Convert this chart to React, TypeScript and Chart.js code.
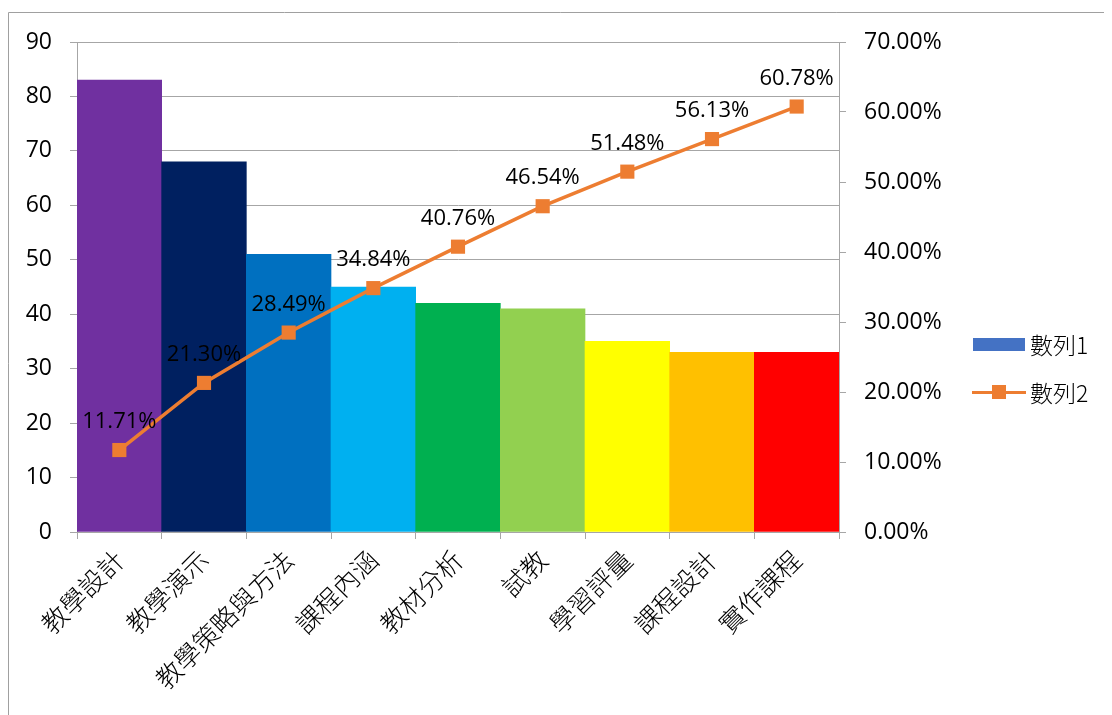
import React, { useEffect, useRef } from "react";
import { Chart, registerables } from "chart.js";
Chart.register(...registerables);

const categories = ["教學設計", "教學演示", "教學策略與方法", "課程內涵", "教材分析", "試教", "學習評量", "課程設計", "實作課程"];
const series1 = [83, 68, 51, 45, 42, 41, 35, 33, 33];
const series2 = [0.1171, 0.213, 0.2849, 0.3484, 0.4076, 0.4654, 0.5148, 0.5613, 0.6078];
const barColors = ["#7030A0", "#002060", "#0070C0", "#00B0F0", "#00B050", "#92D050", "#FFFF00", "#FFC000", "#FF0000"];
const seriesNames = ["數列1", "數列2"];
const leftTicks = { min: 0, max: 90, step: 10 };
const rightTicks = { min: 0, max: 0.7, step: 0.1 };

const NUM_FONT = "'Open Sans', sans-serif";
const CJK_FONT = "'Noto Sans CJK TC', sans-serif";
const GRID = "#A6A6A6";
const LINE = "#ED7D31";
const LEGEND_BAR = "#4472C4";

const pct = (v: number) => (v * 100).toFixed(2) + "%";

const framePlugin = {
  id: "frame",
  beforeDraw(chart: any) {
    const ctx = chart.ctx;
    ctx.save();
    ctx.strokeStyle = "#A0A0A0";
    ctx.lineWidth = 1;
    ctx.beginPath();
    ctx.moveTo(0.5, chart.height);
    ctx.lineTo(0.5, 4.5);
    ctx.lineTo(chart.width, 4.5);
    ctx.stroke();
    ctx.restore();
  },
};

const labelPlugin = {
  id: "pointLabels",
  afterDatasetsDraw(chart: any) {
    const ctx = chart.ctx;
    const meta = chart.getDatasetMeta(1);
    const data = chart.data.datasets[1].data as number[];
    ctx.save();
    ctx.font = `22px ${NUM_FONT}`;
    ctx.fillStyle = "#000";
    ctx.textAlign = "center";
    ctx.textBaseline = "alphabetic";
    meta.data.forEach((pt: any, i: number) => {
      ctx.fillText(pct(data[i]), pt.x, pt.y - 22);
    });
    ctx.restore();
  },
};

const legendPlugin = {
  id: "customLegend",
  afterDraw(chart: any) {
    const ctx = chart.ctx;
    ctx.save();
    ctx.fillStyle = LEGEND_BAR;
    ctx.fillRect(965, 330, 52, 13);
    ctx.strokeStyle = LINE;
    ctx.lineWidth = 3;
    ctx.beginPath();
    ctx.moveTo(964, 384.5);
    ctx.lineTo(1018, 384.5);
    ctx.stroke();
    ctx.fillStyle = LINE;
    ctx.fillRect(984, 377, 14, 14);
    ctx.fillStyle = "#000";
    ctx.font = `300 23px ${CJK_FONT}`;
    ctx.textAlign = "left";
    ctx.textBaseline = "middle";
    ctx.fillText(chart.data.datasets[0].label, 1022, 337);
    ctx.fillText(chart.data.datasets[1].label, 1022, 385);
    ctx.restore();
  },
};

export default function App() {
  const ref = useRef<HTMLCanvasElement>(null);
  useEffect(() => {
    if (!ref.current) return;
    const chart = new Chart(ref.current, {
      type: "bar",
      data: {
        labels: categories,
        datasets: [
          {
            type: "bar",
            label: seriesNames[0],
            data: series1,
            backgroundColor: barColors,
            borderWidth: 0,
            categoryPercentage: 1,
            barPercentage: 1,
            yAxisID: "y",
            order: 2,
          },
          {
            type: "line",
            label: seriesNames[1],
            data: series2,
            borderColor: LINE,
            backgroundColor: LINE,
            borderWidth: 3.5,
            pointStyle: "rect",
            pointRadius: 10,
            pointBorderWidth: 0,
            pointBackgroundColor: LINE,
            yAxisID: "y1",
            order: 1,
          } as any,
        ],
      },
      options: {
        responsive: false,
        animation: false,
        devicePixelRatio: 1,
        layout: { padding: { top: 34, right: 123, left: 0, bottom: 0 } },
        plugins: { legend: { display: false }, tooltip: { enabled: false } },
        scales: {
          x: {
            offset: true,
            grid: { offset: true, drawOnChartArea: false, drawTicks: true, tickLength: 7, color: GRID },
            border: { color: GRID },
            ticks: {
              autoSkip: false,
              minRotation: 45,
              maxRotation: 45,
              padding: 5,
              color: "#000",
              font: { family: CJK_FONT, size: 26, weight: "300" as any },
            },
            afterFit: (s: any) => {
              s.height = 183;
            },
          },
          y: {
            position: "left",
            min: leftTicks.min,
            max: leftTicks.max,
            ticks: { stepSize: leftTicks.step, padding: 18, color: "#000", font: { family: NUM_FONT, size: 23 } },
            grid: { color: GRID, tickLength: 7 },
            border: { color: GRID },
            afterFit: (s: any) => {
              s.width = 69;
            },
          },
          y1: {
            position: "right",
            min: rightTicks.min,
            max: rightTicks.max,
            ticks: {
              stepSize: rightTicks.step,
              padding: 18,
              color: "#000",
              font: { family: NUM_FONT, size: 23 },
              callback: (v: any) => pct(Number(v)),
            },
            grid: { drawOnChartArea: false, color: GRID, tickLength: 7 },
            border: { color: GRID },
            afterFit: (s: any) => {
              s.width = 150;
            },
          },
        },
      },
      plugins: [framePlugin, labelPlugin, legendPlugin],
    });
    return () => chart.destroy();
  }, []);
  return <canvas ref={ref} width={1104} height={707} style={{ display: "block" }} />;
}
